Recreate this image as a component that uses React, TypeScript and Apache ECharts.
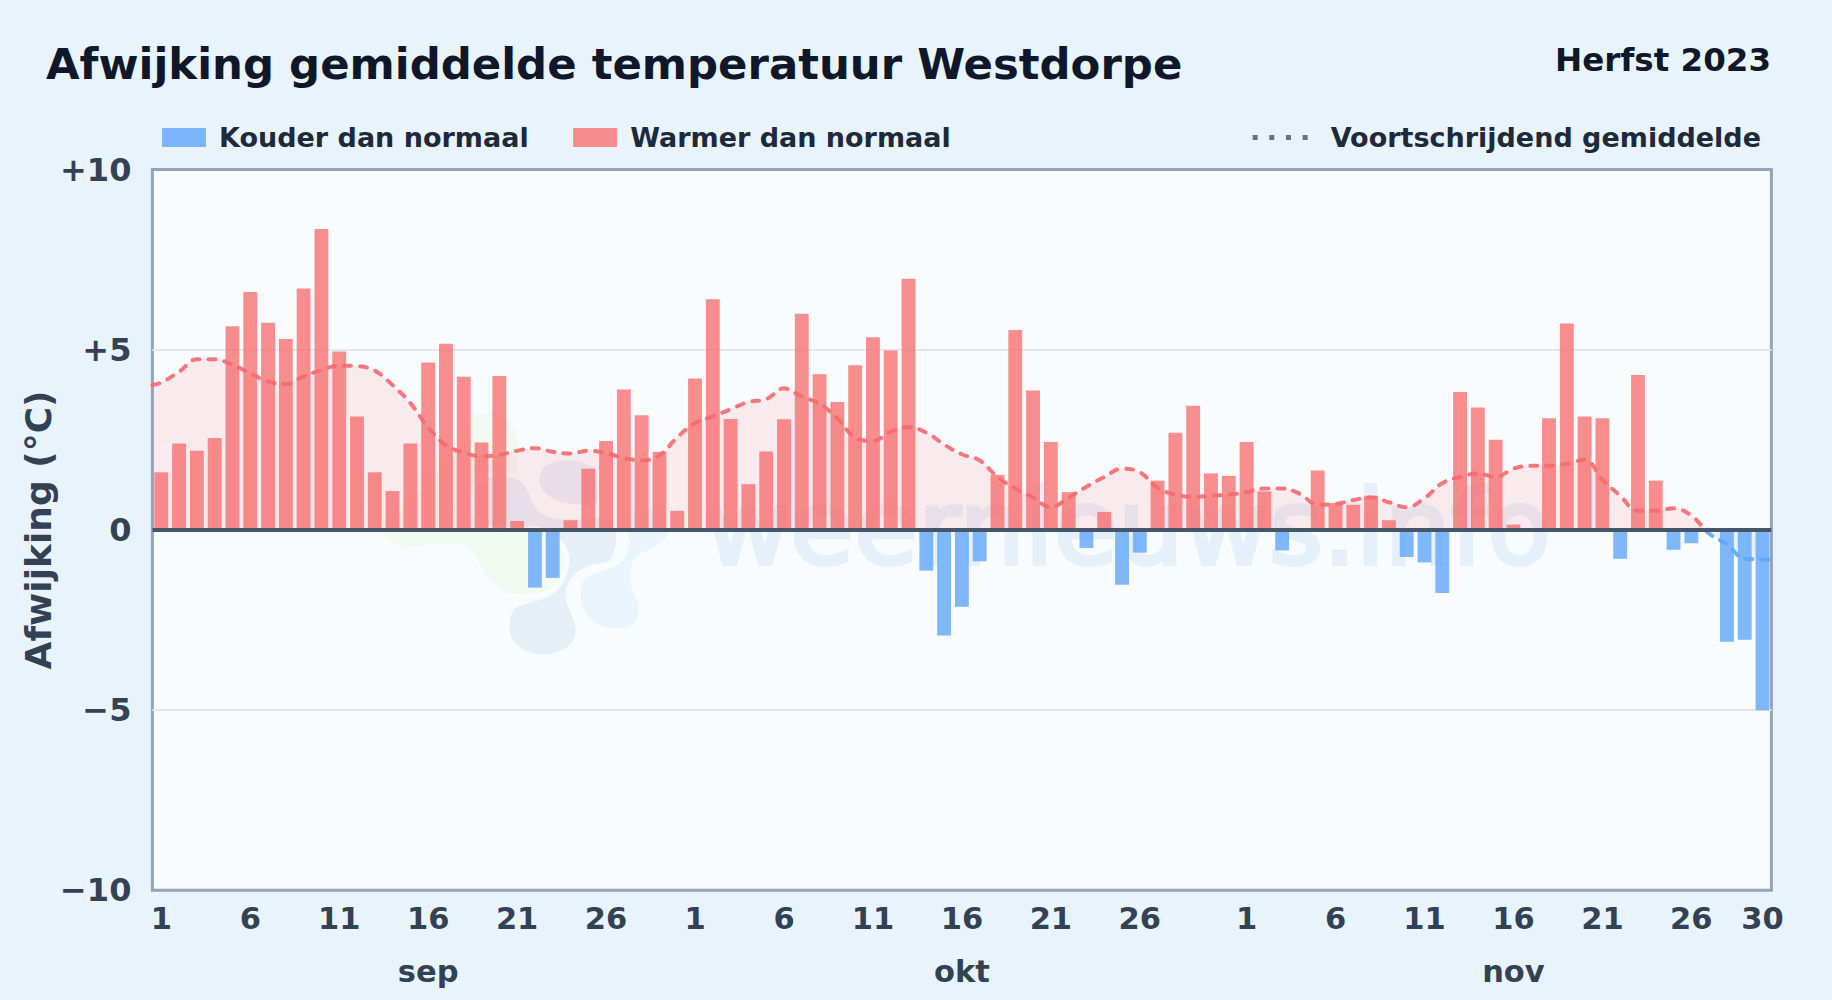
import React, { useEffect, useRef } from "react";
import * as echarts from "echarts";

const sepDeviation = [1.6, 2.4, 2.2, 2.55, 5.65, 6.6, 5.75, 5.3, 6.7, 8.35, 4.95, 3.15, 1.6, 1.08, 2.4, 4.65, 5.17, 4.25, 2.43, 4.27, 0.25, -1.6, -1.33, 0.27, 1.7, 2.47, 3.9, 3.18, 2.17, 0.53];
const oktDeviation = [4.2, 6.4, 3.08, 1.27, 2.18, 3.07, 6.0, 4.32, 3.55, 4.57, 5.35, 4.98, 6.97, -1.13, -2.93, -2.13, -0.87, 1.53, 5.55, 3.87, 2.44, 1.05, -0.5, 0.5, -1.52, -0.63, 1.37, 2.7, 3.45, 1.57, 1.5];
const novDeviation = [2.44, 1.07, -0.57, 0.03, 1.65, 0.75, 0.7, 0.95, 0.27, -0.75, -0.9, -1.75, 3.83, 3.4, 2.5, 0.15, 0, 3.1, 5.73, 3.15, 3.1, -0.8, 4.3, 1.37, -0.55, -0.37, -0.05, -3.1, -3.05, -5.0];

const sepAverage = [4.09, 4.39, 4.74, 4.74, 4.58, 4.35, 4.12, 4.05, 4.26, 4.44, 4.56, 4.55, 4.42, 4.02, 3.52, 2.85, 2.35, 2.15, 2.05, 2.08, 2.2, 2.27, 2.17, 2.12, 2.2, 2.13, 2.0, 1.93, 2.07, 2.57];
const oktAverage = [2.97, 3.15, 3.35, 3.55, 3.63, 3.93, 3.7, 3.5, 3.1, 2.57, 2.47, 2.73, 2.85, 2.7, 2.37, 2.1, 1.93, 1.47, 1.15, 0.9, 0.63, 0.9, 1.2, 1.47, 1.7, 1.6, 1.17, 0.98, 0.92, 0.95, 0.98];
const novAverage = [1.05, 1.15, 1.15, 1.0, 0.7, 0.72, 0.83, 0.9, 0.77, 0.63, 0.88, 1.3, 1.47, 1.57, 1.47, 1.7, 1.78, 1.78, 1.83, 1.95, 1.4, 0.95, 0.53, 0.53, 0.6, 0.4, -0.1, -0.4, -0.8, -0.82];
const averageAtLeftEdge = 4.02;
const averageAtRightEdge = -0.83;

const monthLengths = [30, 31, 30];
const monthNames = ["sep", "okt", "nov"];
const shownDays = [1, 6, 11, 16, 21, 26];
const yTicks: Record<string, string> = { "10": "+10", "5": "+5", "0": "0", "-5": "\u22125", "-10": "\u221210" };

const deviation = [...sepDeviation, ...oktDeviation, ...novDeviation];
const average = [...sepAverage, ...oktAverage, ...novAverage];
const dayCategories: string[] = [];
const monthAtIndex: Record<number, string> = {};
const shownIndexes = new Set<number>();
monthLengths.forEach((len, m) => {
  for (let d = 1; d <= len; d++) {
    const idx = dayCategories.length;
    dayCategories.push(String(d));
    if (shownDays.includes(d)) shownIndexes.add(idx);
    if (d === 16) monthAtIndex[idx] = monthNames[m];
  }
});
shownIndexes.add(dayCategories.length - 1);
const averagePoints = [
  [0, averageAtLeftEdge],
  ...average.map((v, i) => [i + 0.5, v]),
  [average.length, averageAtRightEdge],
];

const FONT = "DejaVu Sans";
const RED = "#f87171";
const BLUE = "#60a5fa";
const PLOT_BG = "#f8fcff";

const logoGreen = [[380,528],[395,512],[425,485],[455,445],[470,418],[483,413],[503,417],[517,437],[517,470],[530,510],[570,540],[570,565],[550,588],[527,593],[510,593],[487,577],[473,553],[453,543],[407,547],[387,538]];
const logoGrey = [[507,627],[512,608],[530,600],[550,593],[563,577],[565,550],[540,530],[510,530],[483,525],[472,500],[483,478],[507,475],[520,478],[530,490],[535,503],[550,515],[577,517],[610,517],[618,533],[618,547],[610,563],[590,568],[573,580],[568,597],[578,627],[573,645],[553,656],[530,655],[512,643]];
const logoGreyTop = [[537,480],[543,465],[563,458],[583,460],[597,468],[600,487],[597,507],[580,507],[557,503],[542,493]];
const logoBlue = [[578,597],[583,613],[597,627],[615,631],[633,627],[641,608],[635,590],[632,577],[637,560],[653,550],[667,540],[670,532],[663,510],[630,510],[625,532],[627,543],[620,560],[603,568],[583,577]];

export default function App() {
  const ref = useRef<HTMLDivElement>(null);
  useEffect(() => {
    document.body.style.margin = "0";
    const chart = echarts.init(ref.current!, null, { renderer: "svg" });
    const poly = (points: number[][], fill: string, gap = 0) => ({
      type: "polygon", z: 1, silent: true, shape: { points, smooth: 0.4 },
      style: { fill, stroke: gap ? PLOT_BG : null, lineWidth: gap },
    });
    chart.setOption({
      animation: false,
      backgroundColor: "#e9f3fc",
      textStyle: { fontFamily: FONT },
      title: [
        { text: "Afwijking gemiddelde temperatuur Westdorpe", left: 41, top: 37, textStyle: { fontFamily: FONT, fontSize: 43.4, fontWeight: "bold", color: "#0f172a" } },
        { text: "Herfst 2023", right: 56, top: 38, textStyle: { fontFamily: FONT, fontSize: 32.5, fontWeight: "bold", color: "#0f172a" } },
      ],
      legend: [
        {
          left: 157, top: 119, itemWidth: 44, itemHeight: 19, itemGap: 44.5, selectedMode: false,
          textStyle: { fontFamily: FONT, fontSize: 27, fontWeight: "bold", color: "#1e293b", padding: [0, 0, 0, 8] },
          data: [{ name: "Kouder dan normaal", icon: "rect" }, { name: "Warmer dan normaal", icon: "rect" }],
        },
        {
          right: 66, top: 119, itemWidth: 55, itemHeight: 5, selectedMode: false,
          textStyle: { fontFamily: FONT, fontSize: 27, fontWeight: "bold", color: "#1e293b", padding: [0, 0, 0, 18] },
          data: [{
            name: "Voortschrijdend gemiddelde",
            icon: "path://M0 0h5v5H0z M16.6 0h5v5h-5z M33.3 0h5v5h-5z M50 0h5v5h-5z",
            itemStyle: { color: "#64748b", opacity: 1 },
          }],
        },
      ],
      grid: { left: 152.4, right: 60.6, top: 169.6, height: 720.7, show: true, backgroundColor: PLOT_BG, borderColor: "#94a3b8", borderWidth: 3, containLabel: false },
      graphic: [
        poly(logoGreen, "#f2f9f0"),
        poly(logoGrey, "#e6eef7", 5),
        poly(logoGreyTop, "#e6eef7", 5),
        poly(logoBlue, "#e9f4fd", 5),
        { type: "text", z: 1, silent: true, x: 705, y: 476, style: { text: "weernieuws.info", fontFamily: FONT, fontSize: 104, fontWeight: "normal", fill: "#e6f0fa", stroke: "#e6f0fa", lineWidth: 4 } },
      ],
      xAxis: [
        {
          type: "category",
          data: dayCategories,
          axisLine: { show: false },
          axisTick: { show: false },
          axisLabel: {
            interval: (index: number) => shownIndexes.has(index),
            formatter: (value: string, index: number) => (monthAtIndex[index] ? `${value}\n${monthAtIndex[index]}` : value),
            fontFamily: FONT, fontSize: 30.5, fontWeight: "bold", color: "#334155", lineHeight: 53, margin: 2,
          },
        },
        { type: "value", min: 0, max: deviation.length, show: false, splitLine: { show: false } },
      ],
      yAxis: {
        type: "value", min: -10, max: 10, interval: 5,
        name: "Afwijking (\u00b0C)", nameLocation: "middle", nameGap: 96, nameMoveOverlap: false,
        nameTextStyle: { fontFamily: FONT, fontSize: 36, fontWeight: "bold", color: "#334155" },
        axisLine: { show: false }, axisTick: { show: false },
        axisLabel: { formatter: (v: number) => yTicks[String(v)], fontFamily: FONT, fontSize: 32, fontWeight: "bold", color: "#334155", margin: 21 },
        splitLine: { showMinLine: false, showMaxLine: false, lineStyle: { color: "#e2e8f0", width: 2 } },
      },
      visualMap: { show: false, seriesIndex: 2, dimension: 1, pieces: [{ gte: 0, lte: 100, color: "#f5696f" }, { gte: -100, lt: 0, color: BLUE }] },
      series: [
        { name: "Kouder dan normaal", type: "bar", barWidth: "78%", barGap: "-100%", itemStyle: { color: BLUE, opacity: 0.8 }, data: deviation.map((v) => (v < 0 ? v : null)) },
        { name: "Warmer dan normaal", type: "bar", barWidth: "78%", barGap: "-100%", itemStyle: { color: RED, opacity: 0.8 }, data: deviation.map((v) => (v >= 0 ? v : null)) },
        {
          name: "Voortschrijdend gemiddelde", type: "line", xAxisIndex: 1, data: averagePoints, smooth: 0.4, showSymbol: false, symbol: "none", z: 3,
          lineStyle: { width: 4, type: [7, 9], cap: "round", opacity: 0.9 },
          areaStyle: { opacity: 0.12 },
          markLine: { silent: true, symbol: "none", label: { show: false }, lineStyle: { color: "#475569", width: 4, type: "solid" }, data: [{ yAxis: 0 }] },
        },
      ],
    });
    return () => chart.dispose();
  }, []);
  return <div ref={ref} style={{ position: "absolute", left: 0, top: 0, width: 1832, height: 1000 }} />;
}
